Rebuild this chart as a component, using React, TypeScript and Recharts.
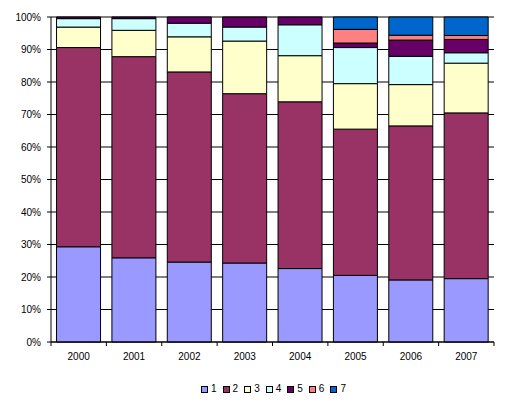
import React from 'react';
import { BarChart, Bar, XAxis, YAxis, CartesianGrid, Legend } from 'recharts';

const years = ['2000', '2001', '2002', '2003', '2004', '2005', '2006', '2007'];
const s1 = [29.3, 25.9, 24.6, 24.3, 22.6, 20.5, 19.1, 19.5];
const s2 = [61.3, 61.9, 58.5, 52.1, 51.3, 45.0, 47.4, 51.0];
const s3 = [6.3, 8.1, 10.8, 16.2, 14.2, 14.0, 12.7, 15.3];
const s4 = [2.6, 3.6, 4.2, 4.3, 9.5, 11.1, 8.7, 3.2];
const s5 = [0.5, 0.5, 1.9, 3.1, 2.4, 1.4, 5.0, 4.1];
const s6 = [0, 0, 0, 0, 0, 4.2, 1.5, 1.2];
const s7 = [0, 0, 0, 0, 0, 3.8, 5.6, 5.7];
const seriesNames = ['1', '2', '3', '4', '5', '6', '7'];
const seriesColors = ['#9999FF', '#993366', '#FFFFCC', '#CCFFFF', '#660066', '#FF8080', '#0066CC'];
const yTicks = [0, 0.1, 0.2, 0.3, 0.4, 0.5, 0.6, 0.7, 0.8, 0.9, 1];

const seriesValues = [s1, s2, s3, s4, s5, s6, s7];
const data = years.map((y, i) => {
  const row: Record<string, any> = { year: y };
  seriesNames.forEach((n, k) => {
    row['s' + n] = seriesValues[k][i];
  });
  return row;
});

const FONT = 'Liberation Sans, Arial, sans-serif';
const CHART_W = 492;
const CHART_H = 398;
const MARGIN = { top: 9, right: 6, left: 0, bottom: 10 };
const Y_W = 43;
const PLOT_W = CHART_W - MARGIN.left - MARGIN.right - Y_W;
const BAND = PLOT_W / years.length;

const XTick = (props: any) => {
  const { x, y, payload, index } = props;
  const left = x - BAND / 2;
  const right = x + BAND / 2;
  return (
    <g>
      <line x1={left} x2={left} y1={y - 11} y2={y - 7} stroke="#000" />
      {index === years.length - 1 && (
        <line x1={right} x2={right} y1={y - 11} y2={y - 7} stroke="#000" />
      )}
      <text x={x} y={y} dy="0.71em" textAnchor="middle" fontSize={10} fontFamily={FONT} fill="#000">
        {payload.value}
      </text>
    </g>
  );
};

const LegendContent = () => (
  <div style={{ height: 14, position: 'relative' }}>
    <div
      style={{
        position: 'absolute',
        left: 193,
        top: 0,
        height: 14,
        display: 'flex',
        alignItems: 'center',
        fontFamily: FONT,
        fontSize: 10,
        color: '#000',
        whiteSpace: 'nowrap',
      }}
    >
      {seriesNames.map((n, k) => (
        <div key={n} style={{ display: 'flex', alignItems: 'center', marginRight: 6 }}>
          <div
            style={{
              width: 7,
              height: 7,
              boxSizing: 'border-box',
              border: '1px solid #000',
              background: seriesColors[k],
              marginRight: 3,
            }}
          />
          <span style={{ lineHeight: '14px' }}>{n}</span>
        </div>
      ))}
    </div>
  </div>
);

export default function App() {
  return (
    <div style={{ width: CHART_W, height: CHART_H }}>
      <BarChart
        width={CHART_W}
        height={CHART_H}
        data={data}
        margin={MARGIN}
        stackOffset="expand"
        barCategoryGap="10%"
      >
        <CartesianGrid vertical={false} stroke="#000" strokeWidth={1} />
        <XAxis
          dataKey="year"
          height={40}
          tickLine={false}
          tickSize={0}
          tickMargin={11}
          axisLine={{ stroke: '#000' }}
          tick={<XTick />}
          interval={0}
        />
        <YAxis
          width={Y_W}
          domain={[0, 1]}
          ticks={yTicks}
          tickFormatter={(v: number) => Math.round(v * 100) + '%'}
          tickSize={4}
          tickMargin={6}
          axisLine={{ stroke: '#000' }}
          tickLine={{ stroke: '#000' }}
          tick={{ fontSize: 10, fontFamily: FONT, fill: '#000' }}
          interval={0}
        />
        <Legend verticalAlign="bottom" height={14} content={<LegendContent />} />
        {seriesNames.map((n, k) => (
          <Bar
            key={n}
            dataKey={'s' + n}
            name={n}
            stackId="a"
            fill={seriesColors[k]}
            stroke="#000"
            strokeWidth={1}
            isAnimationActive={false}
          />
        ))}
      </BarChart>
    </div>
  );
}
